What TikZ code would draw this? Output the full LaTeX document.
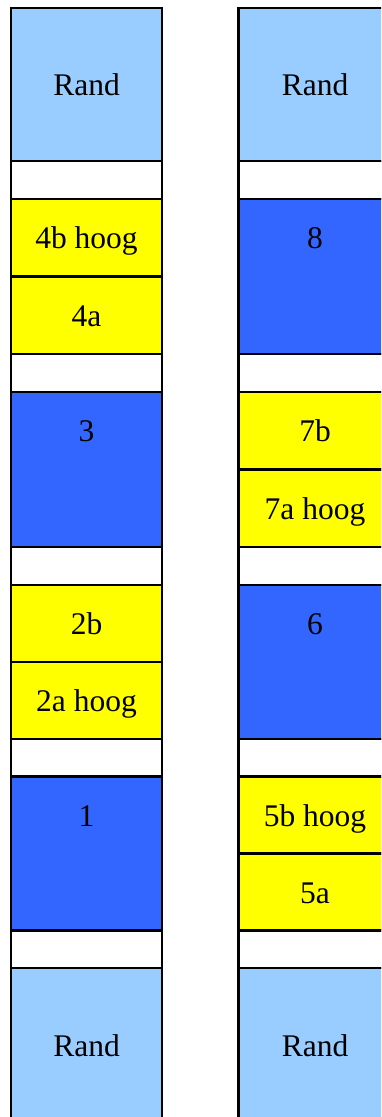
\documentclass[tikz,border=0pt]{standalone}
\usepackage{fontspec}
\setmainfont{Liberation Serif}
\definecolor{randblue}{HTML}{99CCFF}
\definecolor{deepblue}{HTML}{3366FF}
\definecolor{hoogyellow}{HTML}{FFFF00}
\tikzset{
  celltext/.style={font=\fontsize{31.5}{36}\selectfont, inner sep=0pt, text height=24pt, text depth=2pt},
  cellbox/.style={draw=black, line width=2.8pt, inner sep=0pt, outer sep=0pt, anchor=north west,
    font=\fontsize{31.5}{36}\selectfont, text height=24pt, text depth=2pt},
  randcell/.style={cellbox, fill=randblue},
  emptycell/.style={cellbox, fill=white},
  yelcell/.style={cellbox, fill=hoogyellow},
  bluecell/.style={cellbox, fill=deepblue},
}
% name, x, ytop, width, height, style, text
\newcommand\mkcell[7]{\node[#6, minimum width=#4pt, minimum height=#5pt] (#1) at (#2,#3) {#7};}
\newcommand\mkblue[6]{\node[bluecell, minimum width=#4pt, minimum height=#5pt,
   label={[celltext, anchor=center, yshift=-38.5pt]north:#6}] (#1) at (#2,#3) {};}
\begin{document}
\begin{tikzpicture}[x=1pt,y=-1pt]
\useasboundingbox (0,0) rectangle (381,1117);
\clip (0,0) rectangle (381,1117);
% left column
\mkcell{LrandT}{11}{8}{151}{153}{randcell}{Rand}
\mkcell{Lw1}{11}{161}{151}{38}{emptycell}{}
\mkcell{L4b}{11}{199}{151}{77.5}{yelcell}{4b hoog}
\mkcell{L4a}{11}{276.5}{151}{77.5}{yelcell}{4a}
\mkcell{Lw2}{11}{354}{151}{38}{emptycell}{}
\mkblue{L3}{11}{392}{151}{155}{3}
\mkcell{Lw3}{11}{547}{151}{38}{emptycell}{}
\mkcell{L2b}{11}{585}{151}{77}{yelcell}{2b}
\mkcell{L2a}{11}{662}{151}{77}{yelcell}{2a hoog}
\mkcell{Lw4}{11}{739}{151}{37.5}{emptycell}{}
\mkblue{L1}{11}{776.5}{151}{154}{1}
\mkcell{Lw5}{11}{930.5}{151}{37.5}{emptycell}{}
\mkcell{LrandB}{11}{968}{151}{155}{randcell}{Rand}
% right column
\mkcell{RrandT}{238.5}{8}{170}{153}{randcell}{}
\mkcell{Rw1}{238.5}{161}{170}{38}{emptycell}{}
\mkblue{R8}{238.5}{199}{170}{155}{}
\mkcell{Rw2}{238.5}{354}{170}{38}{emptycell}{}
\mkcell{R7b}{238.5}{392}{170}{77.5}{yelcell}{}
\mkcell{R7a}{238.5}{469.5}{170}{77.5}{yelcell}{}
\mkcell{Rw3}{238.5}{547}{170}{38}{emptycell}{}
\mkblue{R6}{238.5}{585}{170}{154}{}
\mkcell{Rw4}{238.5}{739}{170}{37.5}{emptycell}{}
\mkcell{R5b}{238.5}{776.5}{170}{77}{yelcell}{}
\mkcell{R5a}{238.5}{853.5}{170}{77}{yelcell}{}
\mkcell{Rw5}{238.5}{930.5}{170}{37.5}{emptycell}{}
\mkcell{RrandB}{238.5}{968}{170}{155}{randcell}{}
% right column texts (centred on the visible part)
\node[celltext] (tRT) at (315,84.5) {Rand};
\node[celltext] (t8) at (315,237.5) {8};
\node[celltext] (t7b) at (315,430.5) {7b};
\node[celltext] (t7a) at (315,508) {7a hoog};
\node[celltext] (t6) at (315,623.5) {6};
\node[celltext] (t5b) at (315,815) {5b hoog};
\node[celltext] (t5a) at (315,892) {5a};
\node[celltext] (tRB) at (315,1045.5) {Rand};
\end{tikzpicture}
\end{document}
